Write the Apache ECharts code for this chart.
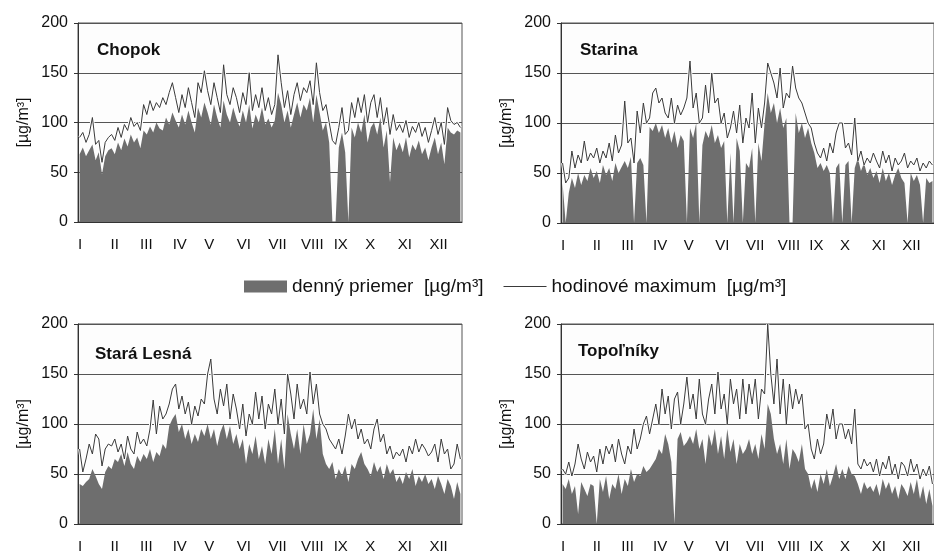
<!DOCTYPE html>
<html>
<head>
<meta charset="utf-8">
<script src="https://cdn.jsdelivr.net/npm/echarts@6.0.0/dist/echarts.min.js"></script>
<style>
html, body { margin: 0; padding: 0; background: #fff; }
#chart { width: 934px; height: 554px; }
</style>
</head>
<body>
<div id="chart"></div>
<script>
// mesiace a ich zaciatky (den v roku)
const months = ['I', 'II', 'III', 'IV', 'V', 'VI', 'VII', 'VIII', 'IX', 'X', 'XI', 'XII'];
const monthStarts = [0, 31, 59, 90, 120, 151, 181, 212, 243, 273, 304, 334];
const yTicks = [0, 50, 100, 150, 200];

const stations = ['Chopok', 'Starina', 'Stará Lesná', 'Topoľníky'];
const meanName = 'denný priemer  [µg/m³]';
const maxName = 'hodinové maximum  [µg/m³]';

// hodnoty odcitane z grafu, 10 hodnot na mesiac
const chopokMean = [
  68, 75, 66, 72, 78, 62, 70, 48, 66, 72,
  74, 68, 80, 72, 84, 76, 88, 80, 85, 74,
  92, 88, 96, 90, 100, 94, 92, 105, 98, 110,
  102, 95, 108, 98, 112, 100, 90, 115, 105, 120,
  110, 98, 118, 105, 95, 122, 108, 100, 115, 104,
  96, 112, 100, 118, 94, 108, 100, 115, 98, 104,
  95, 102, 130, 118, 100, 112, 95, 108, 120, 105,
  118, 112, 125, 100, 128, 110, 92, 100, 80, 0,
  0, 75, 90, 70, 0, 95, 85, 100, 90, 108,
  80, 95, 100, 88, 105, 75, 92, 40, 85, 72,
  80, 70, 85, 65, 78, 72, 82, 68, 75, 62,
  75, 85, 68, 80, 58, 95, 90, 88, 92, 90
];
const chopokMax = [
  85, 90, 80, 88, 105, 78, 82, 60, 80, 85,
  88, 82, 95, 85, 98, 92, 105, 96, 100, 92,
  118, 108, 122, 112, 120, 115, 125, 118, 130, 140,
  125, 110, 128, 115, 135, 120, 105, 140, 130, 152,
  132, 118, 140, 125, 110, 158, 128, 118, 135, 125,
  110, 130, 118, 150, 112, 128, 115, 135, 112, 125,
  108, 118, 168, 140, 115, 132, 108, 128, 140, 122,
  135, 130, 142, 118, 160, 130, 112, 118, 100, 82,
  78, 95, 115, 88, 92, 120, 105, 125, 110, 128,
  100, 120, 128, 105, 125, 98, 115, 88, 108, 92,
  98, 90, 102, 85, 96, 90, 100, 86, 95, 80,
  92, 105, 88, 100, 78, 115, 102, 98, 100, 95
];
const starinaMean = [
  40, 0, 30, 45, 35, 50, 38, 48, 42, 55,
  45, 52, 40, 58, 48, 55, 42, 60, 50, 56,
  62, 55, 66, 0, 60, 65, 58, 0, 96, 92,
  100, 90, 98, 85, 95, 80, 92, 75, 88, 82,
  0, 95, 85, 100, 0, 78, 92, 85, 98, 80,
  88, 75, 82, 0, 70, 0, 85, 72, 0, 60,
  55, 75, 0, 80, 62, 100, 130, 110, 120, 100,
  115, 95, 105, 0, 0, 110, 90, 100, 85, 95,
  80, 70, 55, 60, 52, 58, 50, 0, 55, 60,
  0, 58, 62, 0, 55, 65, 52, 60, 48, 55,
  45, 52, 40, 55, 42, 50, 38, 48, 55, 45,
  40, 0, 50, 42, 48, 38, 0, 45, 40, 42
];
const starinaMax = [
  60, 40, 45, 72, 55, 68, 60, 82, 62, 70,
  65, 75, 60, 72, 65, 80, 62, 88, 70, 78,
  122, 80, 85, 60, 112, 90, 120, 100, 105, 130,
  135, 120, 125, 110, 105, 125, 100, 118, 108, 115,
  125, 162, 115, 130, 100, 105, 138, 110, 150, 120,
  125, 100, 110, 85, 95, 112, 90, 118, 80, 105,
  95, 130, 80, 115, 95, 120, 160, 150, 140, 125,
  155, 115, 130, 125, 157, 135, 125, 120, 110, 100,
  95, 80, 70, 65, 75, 62, 80, 70, 90, 100,
  100, 75, 80, 68, 105, 62, 72, 58, 65, 60,
  70, 62, 55, 72, 60, 68, 52, 65, 58, 62,
  70, 55, 62, 58, 65, 52, 60, 55, 62, 58
];
const staraLesnaMean = [
  40, 38, 42, 45, 55, 48, 40, 35, 52, 58,
  55, 65, 62, 70, 58, 72, 60, 55, 68, 62,
  70, 65, 75, 62, 72, 68, 80, 75, 98, 105,
  110, 92, 100, 85, 95, 80, 90, 82, 95, 88,
  100, 85, 95, 78, 92, 100, 85, 98, 80, 90,
  75, 85, 60, 80, 70, 88, 65, 78, 60, 85,
  70, 95, 60, 85, 55, 110, 90, 75, 95, 70,
  100, 80, 90, 115, 85, 105, 70, 60, 55, 62,
  45, 55, 48, 58, 42, 60, 55, 65, 72, 60,
  55, 48, 62, 52, 58, 45, 60, 50, 55, 42,
  48, 40, 52, 45, 55, 38, 48, 42, 50, 40,
  45, 35, 48, 40, 30, 45, 38, 25, 42, 30
];
const staraLesnaMax = [
  75, 52, 65, 80, 70, 90, 85, 58, 75, 80,
  78, 85, 72, 80, 65, 88, 75, 70, 92, 80,
  85, 78, 95, 124, 90, 118, 105, 110, 120, 135,
  140, 115, 128, 110, 122, 100, 118, 108, 125, 120,
  150, 165, 125, 110, 135, 118, 140, 105, 130, 115,
  95, 120, 88, 110, 100, 132, 105, 128, 95, 120,
  110, 135, 100, 125, 90, 150, 130, 105, 140, 115,
  125, 110, 152, 120, 140, 110, 100, 95, 85, 80,
  75, 85, 70, 88, 110, 95, 105, 85, 95, 80,
  85, 75, 95, 105, 82, 90, 70, 78, 65, 72,
  68, 75, 62, 78, 70, 85, 72, 80, 75, 68,
  72, 80, 62, 85, 70, 75, 55, 60, 80, 65
];
const topolnikyMean = [
  40, 35, 45, 30, 38, 10, 42, 35, 28, 40,
  38, 0, 45, 32, 48, 25, 40, 35, 50, 30,
  45, 38, 55, 42, 50, 48, 58, 52, 55, 60,
  65, 75, 70, 90, 80, 62, 0, 85, 92, 78,
  82, 88, 80, 95, 75, 85, 60, 90, 78, 95,
  70, 88, 65, 95, 72, 85, 60, 80, 70, 75,
  85, 70, 80, 65, 90, 75, 120, 110, 85, 70,
  80, 60, 85, 55, 75, 70, 62, 80, 55, 50,
  35, 45, 32, 50, 40, 55, 38, 48, 60, 45,
  55, 45, 58, 50, 48, 40, 30, 42, 35, 38,
  32, 40, 28, 45, 35, 42, 30, 38, 25, 40,
  35, 28, 42, 30, 45, 25, 38, 20, 35, 18
];
const topolnikyMax = [
  55, 50, 62, 48, 60, 80, 65, 55, 72, 62,
  68, 52, 75, 60, 78, 70, 80, 62, 85, 70,
  60, 78, 70, 95, 75, 85, 100, 108, 90, 105,
  120, 100, 135, 110, 128, 95, 125, 132, 100, 120,
  147, 115, 130, 105, 145, 110, 100, 125, 140, 110,
  152, 115, 130, 100, 145, 120, 135, 105, 145, 110,
  140, 120, 145, 105, 135, 130, 200, 150, 120, 165,
  110, 145, 100, 140, 115, 135, 120, 130, 95, 100,
  75, 65, 85, 70, 80, 110, 95, 115, 85, 100,
  100, 85, 95, 80, 115, 60, 55, 65, 58, 62,
  52, 65, 48, 62, 55, 68, 50, 60, 45, 62,
  58, 48, 65, 52, 60, 45, 55, 48, 58, 40
];

const meanData = [chopokMean, starinaMean, staraLesnaMean, topolnikyMean];
const maxData = [chopokMax, starinaMax, staraLesnaMax, topolnikyMax];

const chartDom = document.getElementById('chart');
const myChart = echarts.init(chartDom);

const font = 'Liberation Sans, Arial, sans-serif';
const grids = [
  { left: 78, top: 23, width: 384, height: 199 },
  { left: 561, top: 23, width: 381, height: 200 },
  { left: 78, top: 324, width: 384, height: 200 },
  { left: 561, top: 324, width: 381, height: 201 }
];
const titlePos = [[97, 42], [580, 42], [95, 346], [578, 343]];

// body po dnoch roka
const toPoints = arr => arr.map((v, i) => [(i + 0.5) * 365 / arr.length, v]);

const xAxis = [], yAxis = [], series = [], title = [];
stations.forEach((name, k) => {
  title.push({
    text: name, left: titlePos[k][0], top: titlePos[k][1], padding: 0,
    textStyle: { fontFamily: font, fontSize: 17, fontWeight: 'bold', color: '#111' }
  });
  xAxis.push({
    type: 'value', gridIndex: k, min: 0, max: 365,
    axisLine: { lineStyle: { color: '#333' } },
    axisTick: { show: false },
    splitLine: { show: false },
    axisLabel: {
      customValues: monthStarts,
      formatter: v => months[monthStarts.indexOf(v)],
      align: 'left', margin: 15, fontSize: 15, fontFamily: font, color: '#111'
    }
  });
  yAxis.push({
    type: 'value', gridIndex: k, min: yTicks[0], max: yTicks[yTicks.length - 1], interval: 50,
    name: '[µg/m³]', nameLocation: 'middle', nameRotate: 90, nameGap: 46,
    nameTextStyle: { fontFamily: font, fontSize: 16, color: '#111' },
    axisLine: { show: true, lineStyle: { color: '#333' } },
    axisTick: { show: true, length: 4, lineStyle: { color: '#333' } },
    axisLabel: { fontSize: 16, fontFamily: font, color: '#111', margin: 10 },
    splitLine: { lineStyle: { color: '#555', width: 1 } }
  });
  series.push({
    name: meanName, type: 'line', xAxisIndex: k, yAxisIndex: k,
    data: toPoints(meanData[k]), symbol: 'none', silent: true,
    lineStyle: { width: 0 }, color: '#6e6e6e',
    areaStyle: { color: '#6e6e6e', opacity: 1 }
  });
  // biely okraj okolo ciary maxima
  series.push({
    name: 'okraj', type: 'line', xAxisIndex: k, yAxisIndex: k,
    data: toPoints(maxData[k]), symbol: 'none', silent: true,
    lineStyle: { width: 3, color: '#fff' }
  });
  series.push({
    name: maxName, type: 'line', xAxisIndex: k, yAxisIndex: k,
    data: toPoints(maxData[k]), symbol: 'none', silent: true,
    color: '#3a3a3a', lineStyle: { width: 1, color: '#3a3a3a' }
  });
});

const option = {
  animation: false,
  backgroundColor: '#fff',
  title: title,
  grid: grids.map(g => Object.assign({ show: true, borderColor: '#555', borderWidth: 1, backgroundColor: '#fdfdfd' }, g)),
  legend: {
    left: 244, top: 277, padding: 0, itemWidth: 43, itemHeight: 12, itemGap: 20,
    selectedMode: false,
    textStyle: { fontFamily: font, fontSize: 19, color: '#111' },
    data: [
      { name: meanName, icon: 'rect' },
      { name: maxName, icon: 'path://M0,0 L43,0 L43,1 L0,1 Z', itemStyle: { color: '#3a3a3a' } }
    ]
  },
  xAxis: xAxis,
  yAxis: yAxis,
  series: series
};

myChart.setOption(option);
</script>
</body>
</html>
